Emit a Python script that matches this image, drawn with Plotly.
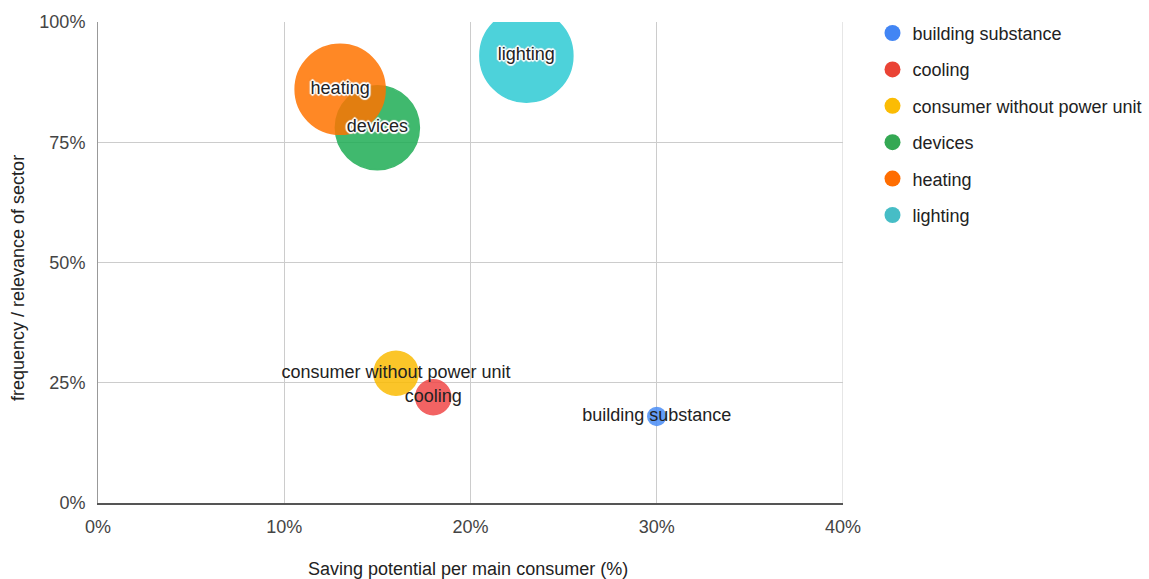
import plotly.graph_objects as go

# Sectors with saving potential, frequency/relevance and bubble weight
sectors = ["building substance", "cooling", "consumer without power unit",
           "devices", "heating", "lighting"]
saving_potential = [0.30, 0.18, 0.16, 0.15, 0.13, 0.23]
relevance = [0.18, 0.22, 0.27, 0.78, 0.86, 0.93]
bubble_weight = [18, 35, 44, 84, 90, 93]

legend_colors = ["#4285F4", "#EA4335", "#FBBC04", "#34A853", "#FF6D01", "#46BDC6"]
bubble_colors = ["#4a8df6", "#f04848", "#fbbc04", "#1fad55", "#ff7400", "#2ecbd4"]
halo = [False, False, False, True, True, True]

FONT = "Liberation Sans, Arial, sans-serif"
HALO = ("2px 0 1px #fff, -2px 0 1px #fff, 0 2px 1px #fff, 0 -2px 1px #fff, "
        "1px 1px 1px #fff, -1px -1px 1px #fff, 1px -1px 1px #fff, "
        "-1px 1px 1px #fff, 0 0 3px #555")

fig = go.Figure()

# Bubbles, drawn in data order
for i in range(len(sectors)):
    fig.add_trace(go.Scatter(
        x=[saving_potential[i]], y=[relevance[i]],
        mode="markers",
        marker=dict(size=[bubble_weight[i]], sizemode="diameter", sizeref=1,
                    color=bubble_colors[i], opacity=0.85,
                    line=dict(width=1.5, color=bubble_colors[i])),
        showlegend=False, hoverinfo="skip", cliponaxis=True,
    ))

# Labels on top of all bubbles
for i in range(len(sectors)):
    fig.add_trace(go.Scatter(
        x=[saving_potential[i]], y=[relevance[i]],
        mode="text",
        text=[sectors[i]],
        textposition="middle center",
        textfont=dict(family=FONT, size=18, color="#222222",
                      shadow=HALO if halo[i] else "none"),
        showlegend=False, hoverinfo="skip", cliponaxis=True,
    ))

# Legend entries with solid swatches
for i, name in enumerate(sectors):
    fig.add_trace(go.Scatter(
        x=[None], y=[None], mode="markers", name=name,
        legendgroup=name,
        marker=dict(size=17, color=legend_colors[i]),
    ))

axis_font = dict(family=FONT, size=18, color="#444444")

fig.update_layout(
    width=1149, height=579,
    margin=dict(l=98, r=306, t=22, b=76, autoexpand=False),
    paper_bgcolor="white", plot_bgcolor="white",
    font=dict(family=FONT, size=18, color="#222222"),
    legend=dict(x=1.0396, y=1.015, xanchor="left", yanchor="top",
                font=dict(family=FONT, size=18, color="#222222"),
                tracegroupgap=10, itemsizing="trace"),
    xaxis=dict(range=[0, 0.4], tickvals=[0, 0.1, 0.2, 0.3, 0.4],
               tickformat=".0%", showgrid=True, gridcolor="#cccccc", gridwidth=1,
               zeroline=False, showline=True, linecolor="#555555", linewidth=2,
               tickfont=axis_font, ticks="", ticklabelstandoff=6,
               automargin=False),
    yaxis=dict(range=[0, 1], tickvals=[0, 0.25, 0.5, 0.75, 1.0],
               tickformat=".0%", showgrid=True, gridcolor="#cccccc", gridwidth=1,
               zeroline=False, showline=True, linecolor="#999999", linewidth=1,
               tickfont=axis_font, ticks="", ticklabelstandoff=8,
               automargin=False),
    annotations=[
        dict(text="Saving potential per main consumer (%)", xref="paper",
             yref="paper", x=(468 - 98) / 745, y=(503 - 569) / 481,
             xanchor="center", yanchor="middle", showarrow=False,
             font=dict(family=FONT, size=18, color="#222222")),
        dict(text="frequency / relevance of sector", xref="paper",
             yref="paper", x=(18 - 98) / 745, y=(503 - 278) / 481,
             xanchor="center", yanchor="middle", showarrow=False, textangle=-90,
             font=dict(family=FONT, size=18, color="#222222")),
    ],
)

# Right border gridline at 40%
fig.add_shape(type="line", xref="x", yref="paper", x0=0.4, x1=0.4, y0=0, y1=1,
              line=dict(color="#cccccc", width=1), layer="below")

fig.write_html("out.html")
